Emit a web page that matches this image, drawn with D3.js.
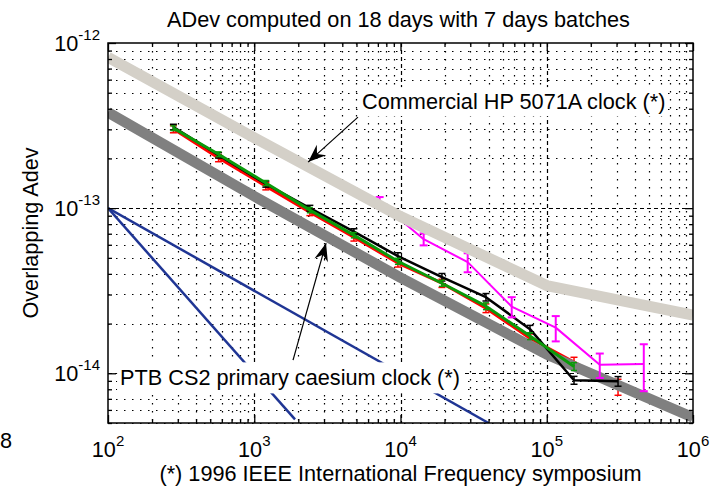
<!DOCTYPE html>
<html>
<head>
<meta charset="utf-8">
<script src="https://cdn.jsdelivr.net/npm/d3@7"></script>
<style>
body { margin: 0; background: #fff; }
svg { display: block; font-family: "Liberation Sans", Arial, sans-serif; }
</style>
</head>
<body>
<svg id="chart"></svg>
<script>
// Total dimensions
var w = 715,
    h = 487;

// ---- data ----
// 7 days batches, tau = 300 s doubled
var tauA = [280, 570, 1200, 2400, 4800, 9600, 19200, 38400, 76800, 153600, 307200];
var adevBlack = [3.10e-13, 2.09e-13, 1.40e-13, 1.0e-13, 7.2e-14, 5.12e-14, 3.82e-14, 2.89e-14, 1.85e-14, 9.08e-15, 8.95e-15];
var errBlack  = [0.12e-13, 0.08e-13, 0.06e-13, 0.4e-14, 0.3e-14, 0.25e-14, 0.2e-14, 0.15e-14, 0.1e-14, 0.05e-14, 0.06e-14];
var adevRed   = [3.01e-13, 2.01e-13, 1.36e-13, 9.46e-14, 6.67e-14, 4.65e-14, 3.51e-14, 2.48e-14, 1.63e-14, 1.17e-14, 8.28e-15];
var errRed    = [0.15e-13, 0.1e-13, 0.07e-13, 0.45e-14, 0.35e-14, 0.25e-14, 0.2e-14, 0.15e-14, 0.1e-14, 0.08e-14, 0.92e-15];
var adevGreen = [3.05e-13, 2.12e-13, 1.42e-13, 9.73e-14, 6.86e-14, 4.77e-14, 3.51e-14, 2.55e-14, 1.68e-14, 1.10e-14];
var errGreen  = [0.1e-13, 0.07e-13, 0.05e-13, 0.35e-14, 0.25e-14, 0.2e-14, 0.15e-14, 0.12e-14, 0.08e-14, 0.06e-14];

// 18 days, tau = 2 h doubled
var tauB = [7200, 14400, 28800, 57600, 115200, 230400, 460800];
var adevMagenta = [1.087e-13, 6.49e-14, 4.71e-14, 2.535e-14, 1.89e-14, 1.127e-14, 1.139e-14];
var errMagenta  = [0.08e-13, 0.54e-14, 0.62e-14, 0.355e-14, 0.33e-14, 0.19e-14, 0.36e-14];

// reference clocks (*)
var tauRef  = [1e2, 1e3, 1e4, 1e5, 1e6];
var adevHP  = [8.2e-13, 2.67e-13, 8.9e-14, 3.4e-14, 2.25e-14];
var adevPTB = [3.8e-13, 1.18e-13, 3.8e-14, 1.3e-14, 5.4e-15];

// slope lines tau^-1 and tau^-1/2
var tauSlope1 = [100, 1900],  adevSlope1 = [1e-13, 5.26e-15];
var tauSlope2 = [100, 40000], adevSlope2 = [1e-13, 5e-15];

// ticks
var xTickExp = [2, 3, 4, 5, 6];
var yTickExp = [-12, -13, -14];

// ---- layout ----
var svg = d3.select("#chart")
    .attr("width", w)
    .attr("height", h);

var margin = { top: 43, right: 22, bottom: 64, left: 108 },
    width = w - margin.left - margin.right,
    height = h - margin.top - margin.bottom;

var x = d3.scaleLog().domain([1e2, 1e6]).range([margin.left, margin.left + width]);
var y = d3.scaleLog().domain([5e-15, 1e-12]).range([margin.top + height, margin.top]);

var fs = 21.7;

// grid values
var xMinor = [], yMinor = [];
for (var d = 2; d < 6; d++)
    for (var m = 2; m < 10; m++) xMinor.push(m * Math.pow(10, d));
for (var d = -15; d < -12; d++)
    for (var m = 2; m < 10; m++) {
        var v = m * Math.pow(10, d);
        if (v > 5e-15 && v < 1e-12) yMinor.push(v);
    }
var xMajor = xTickExp.map(function(e) { return Math.pow(10, e); });
var yMajor = yTickExp.map(function(e) { return Math.pow(10, e); });

var grid = svg.append("g").attr("class", "grid")
    .attr("stroke", "#000").attr("stroke-width", 1.2);

grid.selectAll(".vmin").data(xMinor).enter().append("line")
    .attr("x1", function(d) { return Math.round(x(d)) + 0.5; })
    .attr("x2", function(d) { return Math.round(x(d)) + 0.5; })
    .attr("y1", margin.top).attr("y2", margin.top + height)
    .attr("stroke-dasharray", "1.5,6.5");
grid.selectAll(".hmin").data(yMinor).enter().append("line")
    .attr("y1", function(d) { return Math.round(y(d)) + 0.5; })
    .attr("y2", function(d) { return Math.round(y(d)) + 0.5; })
    .attr("x1", margin.left).attr("x2", margin.left + width)
    .attr("stroke-dasharray", "1.5,6.5");
grid.selectAll(".vmaj").data(xMajor.slice(1, -1)).enter().append("line")
    .attr("x1", function(d) { return Math.round(x(d)) + 0.5; })
    .attr("x2", function(d) { return Math.round(x(d)) + 0.5; })
    .attr("y1", margin.top).attr("y2", margin.top + height)
    .attr("stroke-dasharray", "4,3");
grid.selectAll(".hmaj").data(yMajor.slice(1)).enter().append("line")
    .attr("y1", function(d) { return Math.round(y(d)) + 0.5; })
    .attr("y2", function(d) { return Math.round(y(d)) + 0.5; })
    .attr("x1", margin.left).attr("x2", margin.left + width)
    .attr("stroke-dasharray", "4,3");

// clip
svg.append("clipPath").attr("id", "clip")
    .append("rect")
    .attr("x", margin.left).attr("y", margin.top)
    .attr("width", width).attr("height", height);

var plot = svg.append("g").attr("clip-path", "url(#clip)");

var line = d3.line()
    .x(function(d) { return x(d[0]); })
    .y(function(d) { return y(d[1]); });

function zip(a, b) { return a.map(function(v, i) { return [v, b[i]]; }); }

function drawLine(tau, adev, color, sw) {
    plot.append("path")
        .datum(zip(tau, adev))
        .attr("fill", "none")
        .attr("stroke", color)
        .attr("stroke-width", sw)
        .attr("stroke-linejoin", "round")
        .attr("d", line);
}

function drawErr(tau, adev, err, color, sw, cap) {
    var g = plot.append("g").attr("stroke", color).attr("stroke-width", sw);
    var pts = tau.map(function(t, i) { return { t: t, v: adev[i], e: err[i] }; });
    g.selectAll(".bar").data(pts).enter().append("line")
        .attr("x1", function(d) { return x(d.t); })
        .attr("x2", function(d) { return x(d.t); })
        .attr("y1", function(d) { return y(d.v - d.e); })
        .attr("y2", function(d) { return y(d.v + d.e); });
    g.selectAll(".capLo").data(pts).enter().append("line")
        .attr("x1", function(d) { return x(d.t) - cap; })
        .attr("x2", function(d) { return x(d.t) + cap; })
        .attr("y1", function(d) { return y(d.v - d.e); })
        .attr("y2", function(d) { return y(d.v - d.e); });
    g.selectAll(".capHi").data(pts).enter().append("line")
        .attr("x1", function(d) { return x(d.t) - cap; })
        .attr("x2", function(d) { return x(d.t) + cap; })
        .attr("y1", function(d) { return y(d.v + d.e); })
        .attr("y2", function(d) { return y(d.v + d.e); });
}

// slope lines
drawLine(tauSlope1, adevSlope1, "#1f3594", 2.5);
drawLine(tauSlope2, adevSlope2, "#1f3594", 2.5);

// data
drawLine(tauA, adevRed, "#ff0000", 3);
drawErr(tauA, adevRed, errRed, "#ff0000", 1.5, 3.5);
drawLine(tauRef, adevPTB, "#808080", 10.5);
drawLine(tauA, adevBlack, "#000000", 2.5);
drawErr(tauA, adevBlack, errBlack, "#000000", 1.5, 3.5);
drawLine(tauA.slice(0, adevGreen.length), adevGreen, "#0a9a0a", 3);
drawErr(tauA.slice(0, adevGreen.length), adevGreen, errGreen, "#0a9a0a", 1.5, 3);
drawLine(tauB, adevMagenta, "#ff00ff", 2);
drawErr(tauB, adevMagenta, errMagenta, "#ff00ff", 2, 4);
drawLine(tauRef, adevHP, "#d4d0c8", 11);

// axes ticks (inside, all four sides)
var axes = svg.append("g").attr("class", "axes");
function ticks(axisFn, pos, vals, size, transform) {
    axes.append("g")
        .attr("transform", transform)
        .call(axisFn(pos).tickValues(vals).tickSize(size).tickFormat(""))
        .call(function(g) {
            g.select(".domain").remove();
            g.selectAll("line").attr("stroke", "#000").attr("stroke-width", 1.3);
        });
}
ticks(d3.axisBottom, x, xMinor, -4, "translate(0," + (margin.top + height) + ")");
ticks(d3.axisBottom, x, xMajor, -8, "translate(0," + (margin.top + height) + ")");
ticks(d3.axisTop, x, xMinor, -4, "translate(0," + margin.top + ")");
ticks(d3.axisTop, x, xMajor, -8, "translate(0," + margin.top + ")");
ticks(d3.axisLeft, y, yMinor, -4, "translate(" + margin.left + ",0)");
ticks(d3.axisLeft, y, yMajor, -8, "translate(" + margin.left + ",0)");
ticks(d3.axisRight, y, yMinor, -4, "translate(" + (margin.left + width) + ",0)");
ticks(d3.axisRight, y, yMajor, -8, "translate(" + (margin.left + width) + ",0)");

// frame
svg.append("rect")
    .attr("x", margin.left).attr("y", margin.top)
    .attr("width", width).attr("height", height)
    .attr("fill", "none").attr("stroke", "#000").attr("stroke-width", 1.5);

// tick labels
svg.selectAll(".xlab").data(xTickExp).enter().append("text")
    .attr("x", function(d) { return x(Math.pow(10, d)); })
    .attr("y", margin.top + height + 34)
    .attr("text-anchor", "middle")
    .attr("font-size", fs)
    .each(function(d) {
        var t = d3.select(this);
        t.append("tspan").text("10");
        t.append("tspan").attr("dy", -11).attr("font-size", 15).text(d);
    });

svg.selectAll(".ylab").data(yTickExp).enter().append("text")
    .attr("x", margin.left - 8)
    .attr("y", function(d) { return y(Math.pow(10, d)) + 8; })
    .attr("text-anchor", "end")
    .attr("font-size", fs)
    .each(function(d) {
        var t = d3.select(this);
        t.append("tspan").text("10");
        t.append("tspan").attr("dy", -11).attr("font-size", 15).text(d);
    });

// stray label at the left edge
svg.append("text")
    .attr("x", 0).attr("y", 448)
    .attr("font-size", fs)
    .text("8");

// title and axis labels
svg.append("text")
    .attr("x", margin.left + width / 2 - 2).attr("y", 27)
    .attr("text-anchor", "middle")
    .attr("font-size", fs)
    .text("ADev computed on 18 days with 7 days batches");

svg.append("text")
    .attr("x", margin.left + width / 2).attr("y", 481)
    .attr("text-anchor", "middle")
    .attr("font-size", fs)
    .text("(*) 1996 IEEE International Frequency symposium");

svg.append("text")
    .attr("transform", "translate(38," + (margin.top + height / 2) + ") rotate(-90)")
    .attr("text-anchor", "middle")
    .attr("font-size", fs)
    .text("Overlapping Adev");

// annotations: boxed labels + arrows
var defs = svg.append("defs");
defs.append("marker")
    .attr("id", "head")
    .attr("markerUnits", "userSpaceOnUse")
    .attr("viewBox", "-19 -8 20 16")
    .attr("markerWidth", 20).attr("markerHeight", 16)
    .attr("refX", 0).attr("refY", 0)
    .attr("orient", "auto")
    .append("path")
    .attr("d", "M0,0 L-18,-7 L-12,0 L-18,7 Z")
    .attr("fill", "#000");

function label(tau, adev, txt, pad) {
    var t = svg.append("text")
        .attr("x", x(tau)).attr("y", y(adev))
        .attr("font-size", fs)
        .text(txt);
    var b = t.node().getBBox();
    svg.insert("rect", function() { return t.node(); })
        .attr("x", b.x - pad).attr("y", b.y - pad)
        .attr("width", b.width + 2 * pad).attr("height", b.height + 2 * pad)
        .attr("fill", "#fff");
}

function arrow(t0, a0, t1, a1) {
    svg.append("line")
        .attr("x1", x(t0)).attr("y1", y(a0))
        .attr("x2", x(t1)).attr("y2", y(a1))
        .attr("stroke", "#000").attr("stroke-width", 1.2)
        .attr("marker-end", "url(#head)");
}

label(5460, 3.98e-13, "Commercial HP 5071A clock (*)", 2);
label(121, 8.45e-15, "PTB CS2 primary caesium clock (*)", 3);
arrow(5120, 3.56e-13, 2335, 1.90e-13);
arrow(1841, 1.2e-14, 3097, 6.14e-14);
</script>
</body>
</html>
